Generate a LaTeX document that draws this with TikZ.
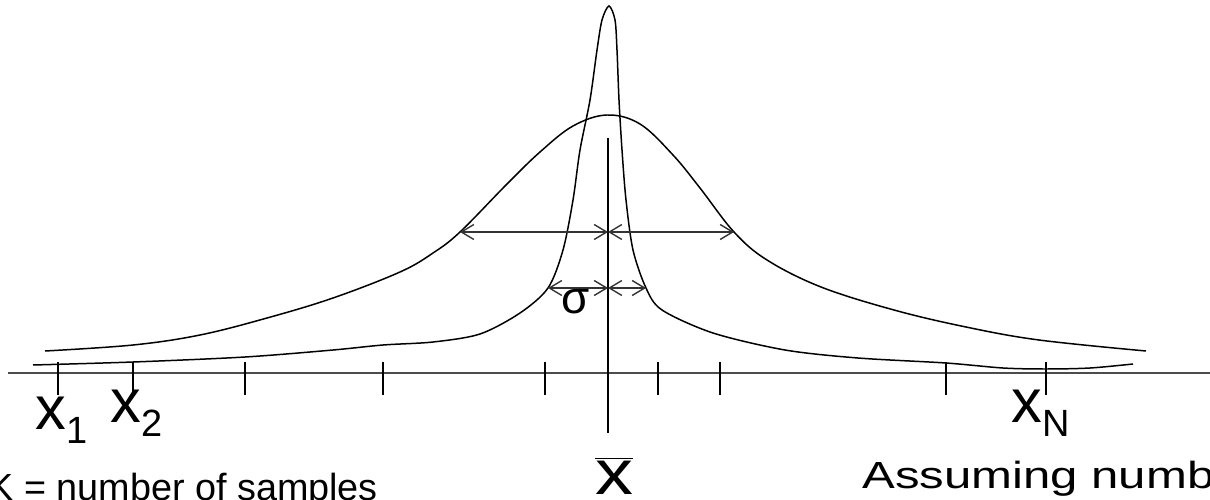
\documentclass[tikz,border=0pt]{standalone}
\usepackage{fontspec}
\setmainfont{Liberation Sans}
\usepackage{tikz}
\usetikzlibrary{arrows.meta,positioning}
\newcommand{\samplelabel}[1]{\fontsize{35pt}{35pt}\selectfont x\raisebox{-0.29cm}{\fontsize{21.6pt}{21.6pt}\selectfont #1}}
\tikzset{
  curve/.style={line width=0.85pt, black},
  axisline/.style={line width=1pt, black!70},
  tickmark/.style={line width=0.8pt, black},
  meanline/.style={line width=1pt, black},
  spread/.style={{Straight Barb[length=2.5mm,width=3mm]}-{Straight Barb[length=2.5mm,width=3mm]},
    line width=0.8pt, black!80},
  xlabel/.style={inner sep=0pt, anchor=base west},
  bottomtext/.style={inner sep=0pt, anchor=base west, font=\fontsize{21.5pt}{21.5pt}\selectfont}
}
\begin{document}
\begin{tikzpicture}[x=0.02cm, y=-0.02cm]
  \useasboundingbox (0,0) rectangle (1210,500);
  \draw[axisline] (8,373) -- (1210,373);
  \foreach \t in {58,133,245,383,545,658,720,946,1046}
    \draw[tickmark] (\t,362) -- (\t,395);
  \draw[meanline] (608,138) -- (608,433);
  \draw[curve] plot[smooth, tension=0.6] coordinates {
    (45,351) (133,345) (200,335) (267,318) (333,298) (400,272) (433,253)
    (460,232) (507,184) (540,152) (573,126) (607,115) (640,124) (673,155)
    (700,188) (734,232) (767,260) (821,287) (894,310) (966,327) (1039,340) (1146,351)};
  \draw[curve] plot[smooth, tension=0.5] coordinates {
    (33,365) (133,362) (245,357) (333,350) (383,345) (433,342) (480,334)
    (520,313) (548,288) (563,250) (573,200) (580,150) (590,100) (597,50)
    (602,20) (609,6) (615,20) (617,50) (619,100) (622,150) (626,200)
    (633,250) (646,288) (662,310) (713,333) (785,350) (858,358) (946,363)
    (1003,368) (1046,369) (1090,368) (1133,364)};
  \coordinate (wideleft) at (460,232);
  \coordinate (widemid) at (608,232);
  \coordinate (wideright) at (734,232);
  \coordinate (sigleft) at (548,288);
  \coordinate (sigmid) at (608,288);
  \coordinate (sigright) at (646,288);
  \draw[spread] (wideleft) -- (widemid);
  \draw[spread] (widemid) -- (wideright);
  \draw[spread] (sigleft) -- (sigmid);
  \draw[spread] (sigmid) -- (sigright);
  \node[font=\fontsize{26pt}{26pt}\selectfont, inner sep=0pt] (sigma) at (576,302) {σ};
  \node[xlabel] (xone) at (35,429) {\samplelabel{1}};
  \node[xlabel] (xtwo) at (110,422) {\samplelabel{2}};
  \node[xlabel] (xlast) at (1011,422) {\samplelabel{N}};
  \node[inner sep=0pt, anchor=base, xscale=1.2, transform shape,
    font=\fontsize{36pt}{36pt}\selectfont] (xbar) at (614,494) {$\overline{\hbox{x}}$};
  \node[bottomtext] (ktext) at (-12,500) {K = number of samples};
  \node[bottomtext, xscale=1.3, transform shape] (assume) at (862,488) {Assuming numb};
\end{tikzpicture}
\end{document}
